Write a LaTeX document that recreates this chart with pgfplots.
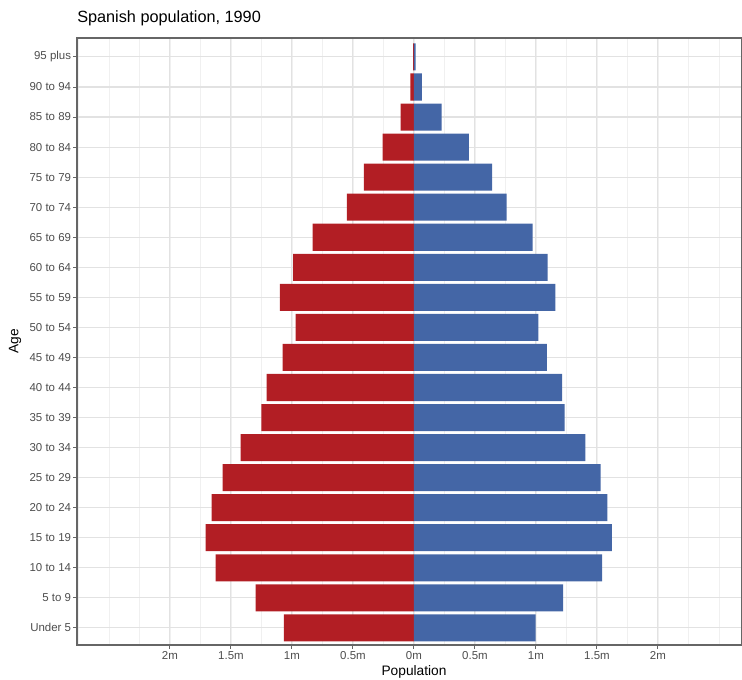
\documentclass[border=0pt]{standalone}
\usepackage{pgfplots}
\usepackage{pgfplotstable}
\pgfplotsset{compat=1.18}
\usepackage{fontspec}
\setmainfont{Liberation Sans}

\definecolor{popred}{RGB}{178,30,36}
\definecolor{popblue}{RGB}{68,102,166}
\definecolor{gridmaj}{RGB}{226,226,226}
\definecolor{gridmin}{RGB}{240,240,240}
\definecolor{ticktext}{RGB}{77,77,77}

% population in millions, index 0 = Under 5 ... 19 = 95 plus
\pgfplotstableread{
idx left right
0  1.066 0.998
1  1.297 1.223
2  1.625 1.542
3  1.707 1.623
4  1.658 1.585
5  1.568 1.530
6  1.420 1.405
7  1.250 1.235
8  1.207 1.214
9  1.077 1.090
10 0.970 1.020
11 1.100 1.160
12 0.990 1.095
13 0.830 0.973
14 0.550 0.760
15 0.410 0.640
16 0.257 0.450
17 0.110 0.227
18 0.030 0.065
19 0.006 0.014
}\popdata

\begin{document}
\begin{tikzpicture}
\path[use as bounding box] (-57.75pt,-25.5pt) rectangle (498.75pt,483.75pt);
\begin{axis}[
  at={(0,0)}, anchor=south west,
  scale only axis, width=498.75pt, height=455.25pt,
  xmin=-2.762, xmax=2.689, ymin=-0.57, ymax=19.63,
  ytick={0,...,19},
  yticklabels={Under 5, 5 to 9, 10 to 14, 15 to 19, 20 to 24, 25 to 29, 30 to 34, 35 to 39, 40 to 44, 45 to 49, 50 to 54, 55 to 59, 60 to 64, 65 to 69, 70 to 74, 75 to 79, 80 to 84, 85 to 89, 90 to 94, 95 plus},
  xtick={-2,-1.5,...,2},
  xticklabels={2m,1.5m,1m,0.5m,0m,0.5m,1m,1.5m,2m},
  minor xtick={-2.75,-2.5,...,2.75},
  grid=both,
  major grid style={gridmaj, line width=0.8pt},
  minor grid style={gridmin, line width=0.6pt},
  axis line style={black!60, line width=1.1pt},
  tick align=outside, tick pos=left,
  major tick length=2.75pt, minor tick length=0pt,
  tick style={black!60, line width=0.7pt},
  /pgf/number format/assume math mode=true,
  ticklabel style={font=\fontsize{8.6}{10}\selectfont, text=ticktext},
  yticklabel style={inner xsep=1.5pt},
  xticklabel style={inner ysep=2pt},
  title={Spanish population, 1990},
  title style={at={(axis description cs:0,1)}, anchor=base west, inner xsep=0pt, yshift=5.5pt, font=\fontsize{12.2}{14}\selectfont},
  xlabel={Population},
  xlabel style={at={(axis description cs:0.5068,-0.0445)}, anchor=center, font=\fontsize{10.3}{12}\selectfont},
  ylabel={Age},
  ylabel style={at={(axis description cs:-0.0932,0.5)}, anchor=center, font=\fontsize{10.3}{12}\selectfont},
]
\addplot[xbar, bar width=0.9, bar shift=0pt, fill=popred, draw=none] table[x expr=-\thisrow{left}, y=idx] {\popdata};
\addplot[xbar, bar width=0.9, bar shift=0pt, fill=popblue, draw=none] table[x=right, y=idx] {\popdata};
\end{axis}
\end{tikzpicture}
\end{document}
